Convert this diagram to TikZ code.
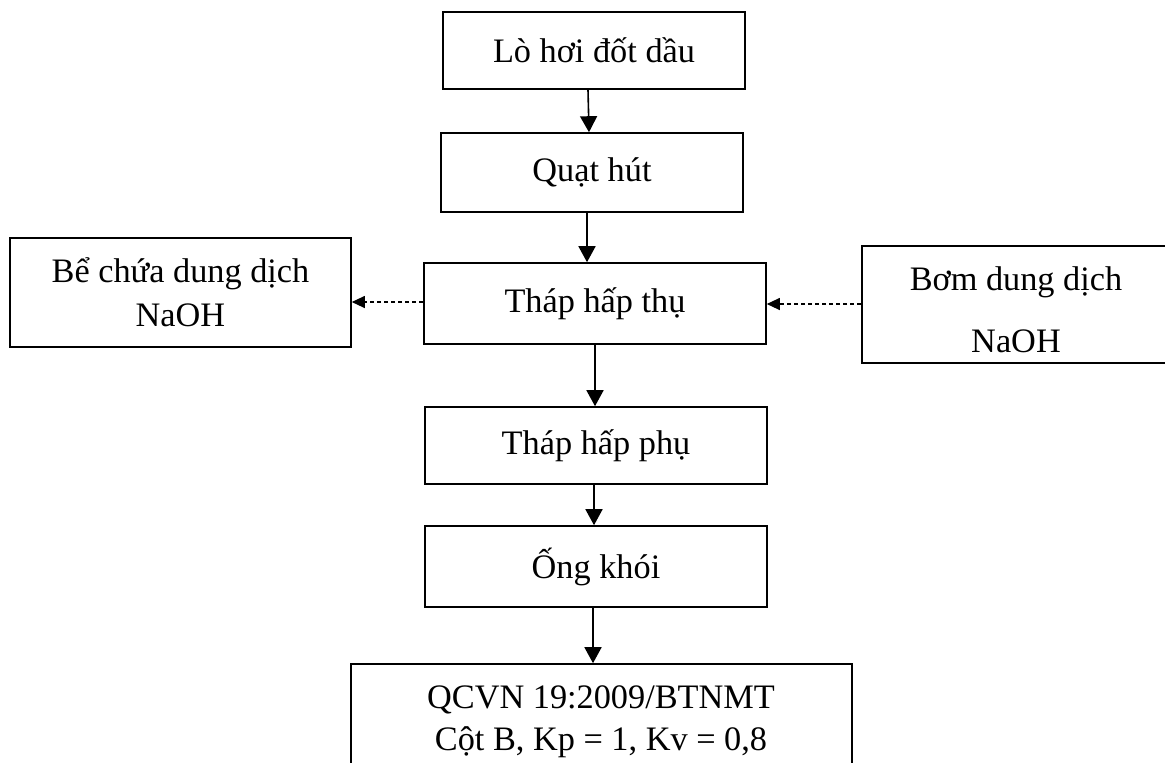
\documentclass[tikz,border=0pt]{standalone}
\usepackage{fontspec}
\setmainfont{Liberation Serif}
\usetikzlibrary{arrows.meta}
\begin{document}
\begin{tikzpicture}[x=1pt,y=-1pt,
  box/.style={draw, line width=1.6pt, rectangle, inner sep=0pt, align=center, font=\fontsize{34.3}{44}\selectfont},
  arr/.style={line width=1.6pt, -{Triangle[length=16pt,width=17pt]}},
  darr/.style={line width=1.1pt, dash pattern=on 4pt off 3pt, -{Triangle[length=13pt,width=12pt]}},
  lbl/.style={font=\fontsize{34.3}{44}\selectfont, inner sep=0pt, anchor=base}]
\useasboundingbox (0,0) rectangle (1165,763);
\clip (0,0) rectangle (1165,763);
\node[box, minimum width=302pt, minimum height=77pt] (b1) at (594,50.5) {Lò hơi đốt dầu};
\node[box, minimum width=302pt, minimum height=79pt] (b2) at (592,172.5) {Quạt hút};
\node[box, minimum width=342pt, minimum height=81pt] (b3) at (595,303.5) {Tháp hấp thụ};
\node[box, minimum width=342pt, minimum height=77pt] (b4) at (596,445.5) {Tháp hấp phụ};
\node[box, minimum width=342pt, minimum height=81pt] (b5) at (596,566.5) {Ống khói};
\node[box, minimum width=341pt, minimum height=109pt, text depth=0pt] (bl) at (180.5,292.5) {Bể chứa dung dịch\\NaOH};
\node[draw, line width=1.6pt, rectangle, minimum width=400pt, minimum height=117pt] (br) at (1062,304.5) {};
\node[lbl] (brt1) at (1016,290) {Bơm dung dịch};
\node[lbl] (brt2) at (1016,352) {NaOH};
\node[draw, line width=1.6pt, rectangle, minimum width=501pt, minimum height=140pt] (b6) at (601.5,734) {};
\node[lbl] (b6t1) at (601,708) {QCVN 19:2009/BTNMT};
\node[lbl] (b6t2) at (601,750) {Cột B, Kp = 1, Kv = 0,8};
\draw[arr] (b1.south -| 588,0) -- (b2.north -| 589,0);
\draw[arr] (b2.south -| 587,0) -- (b3.north -| 587,0);
\draw[arr] (b3.south -| 595,0) -- (b4.north -| 595,0);
\draw[arr] (b4.south -| 594,0) -- (b5.north -| 594,0);
\draw[arr] (b5.south -| 593,0) -- (b6.north -| 593,0);
\draw[darr] (b3.west |- 0,302) -- (bl.east |- 0,302);
\draw[darr] (br.west |- 0,304) -- (b3.east |- 0,304);
\end{tikzpicture}
\end{document}
